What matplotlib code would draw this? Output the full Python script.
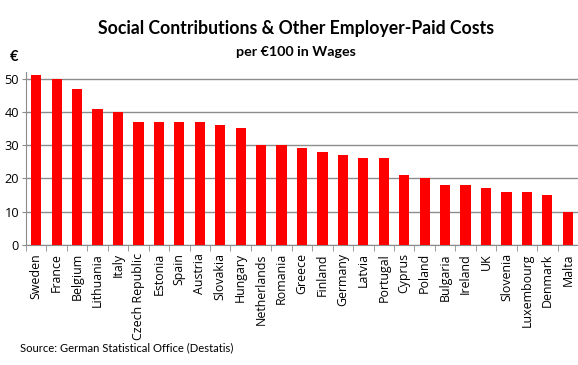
import numpy as np
import matplotlib.pyplot as plt

# Data
countries = ["Sweden", "France", "Belgium", "Lithuania", "Italy", "Czech Republic",
             "Estonia", "Spain", "Austria", "Slovakia", "Hungary", "Netherlands",
             "Romania", "Greece", "Finland", "Germany", "Latvia", "Portugal",
             "Cyprus", "Poland", "Bulgaria", "Ireland", "UK", "Slovenia",
             "Luxembourg", "Denmark", "Malta"]
costs = [51, 50, 47, 41, 40, 37, 37, 37, 37, 36, 35, 30, 30, 29, 28, 27, 26, 26,
         21, 20, 18, 18, 17, 16, 16, 15, 10]
yticks = [0, 10, 20, 30, 40, 50]

plt.rcParams['font.family'] = ['Lato', 'DejaVu Sans']
tickfont = ['Open Sans', 'DejaVu Sans']

fig = plt.figure(figsize=(5.78, 3.65), dpi=100)
ax = fig.add_axes([0.045, 0.329, 0.955, 0.474])

x = np.arange(len(countries))
ax.bar(x, costs, width=0.5, color='#ff0000', zorder=3)

ax.set_xlim(-0.5, len(countries) - 0.5)
ax.set_ylim(0, 52)
ax.set_yticks(yticks)
ax.yaxis.grid(True, color='#8c8c8c', lw=1)
ax.set_axisbelow(True)

ax.set_xticks(x)
ax.set_xticklabels(countries, rotation=90, fontsize=8.9, family=tickfont)
ax.set_yticklabels([str(v) for v in yticks], fontsize=9.2, family=tickfont)
ax.set_xticks(np.arange(len(countries) + 1) - 0.5, minor=True)
ax.tick_params(axis='x', which='major', length=0, pad=6)
ax.tick_params(axis='x', which='minor', length=4, color='#8c8c8c')
ax.tick_params(axis='y', length=3, color='#8c8c8c', pad=2)

for s in ['top', 'right']:
    ax.spines[s].set_visible(False)
ax.spines['left'].set_color('#8c8c8c')
ax.spines['bottom'].set_color('#8c8c8c')

fig.text(0.512, 0.922, "Social Contributions & Other Employer-Paid Costs",
         ha='center', va='center', fontsize=12.7, fontweight='bold')
fig.text(0.512, 0.858, "per €100 in Wages", ha='center', va='center',
         fontsize=10.3, fontweight='bold')
fig.text(0.024, 0.843, "€", ha='center', va='center', fontsize=10.5, fontweight='bold')
fig.text(0.035, 0.047, "Source: German Statistical Office (Destatis)",
         ha='left', va='center', fontsize=8.1)

fig.savefig('out.png', dpi=100)
plt.close(fig)
